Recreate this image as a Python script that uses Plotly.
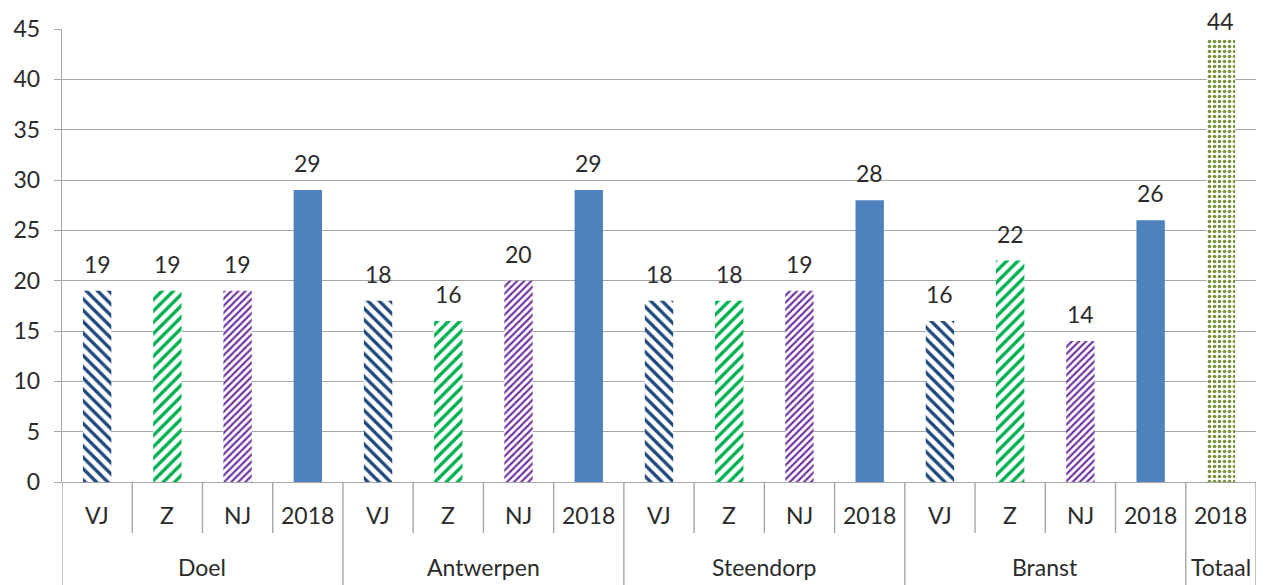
import plotly.graph_objects as go

# ---- data ----
groups = ["Doel", "Antwerpen", "Steendorp", "Branst"]
sub_labels = ["VJ", "Z", "NJ", "2018"]
total_group = "Totaal"
total_label = "2018"
vj_values = [19, 18, 18, 16]
z_values = [19, 16, 18, 22]
nj_values = [19, 20, 19, 14]
y2018_values = [29, 29, 28, 26]
totaal_values = [44]
y_ticks = [0, 5, 10, 15, 20, 25, 30, 35, 40, 45]

# ---- build category positions ----
cats = []  # (group, sub)
for g in groups:
    for s in sub_labels:
        cats.append((g, s))
cats.append((total_group, total_label))
n = len(cats)

def idx(series_sub):
    return [i for i, (g, s) in enumerate(cats) if s == series_sub and g != total_group]

x_vj = idx("VJ")
x_z = idx("Z")
x_nj = idx("NJ")
x_18 = idx("2018")
x_tot = [i for i, (g, s) in enumerate(cats) if g == total_group]

# page body has an 8px margin -> compensate
OFF = 8
W, H = 1270 - OFF, 585 - OFF
ml, mr, mt, mb = 62 - OFF, 14, 29 - OFF, 103
ph = H - mt - mb
plot_bottom_px = 482
grid_c = "#A6A6A6"
txt_c = "#2B2B2B"
font_f = "Lato, Calibri, Carlito, sans-serif"
fs = 23
bw = 0.404

fig = go.Figure()

def add_bar(xs, ys, name, color, shape=None, size=8, solidity=0.4):
    marker = dict(color=color, line=dict(width=0))
    if shape:
        marker = dict(color="white", line=dict(width=0),
                      pattern=dict(shape=shape, fgcolor=color, bgcolor="white",
                                   size=size, solidity=solidity, fillmode="replace",
                                   fgopacity=1))
    fig.add_trace(go.Bar(x=xs, y=ys, name=name, width=bw, marker=marker,
                         hoverinfo="y"))

add_bar(x_vj, vj_values, "VJ", "#1F497D", "\\", 8, 0.42)
add_bar(x_z, z_values, "Z", "#00B050", "/", 8, 0.42)
add_bar(x_nj, nj_values, "NJ", "#7030A0", "/", 5, 0.42)
add_bar(x_18, y2018_values, "2018", "#4F81BD")
add_bar(x_tot, totaal_values, "Totaal", "#77933C", ".", 5, 0.42)

# value labels
annotations = []
for xs, ys in [(x_vj, vj_values), (x_z, z_values), (x_nj, nj_values),
               (x_18, y2018_values), (x_tot, totaal_values)]:
    for xv, yv in zip(xs, ys):
        shift = 27 if yv < 42 else 18
        annotations.append(dict(x=xv, y=yv, xref="x", yref="y", text=str(yv),
                                showarrow=False, yshift=shift, yanchor="middle",
                                font=dict(size=fs, color=txt_c, family=font_f)))

# sub-category labels
sub_y = -(515 - plot_bottom_px) / ph
grp_y = -(567 - plot_bottom_px) / ph
for i, (g, s) in enumerate(cats):
    annotations.append(dict(x=i, y=sub_y, xref="x", yref="paper", text=s,
                            showarrow=False, yanchor="middle",
                            font=dict(size=fs, color=txt_c, family=font_f)))

# group labels
group_names = groups + [total_group]
starts = {}
for i, (g, s) in enumerate(cats):
    starts.setdefault(g, []).append(i)
for g in group_names:
    members = starts[g]
    xc = (members[0] + members[-1]) / 2
    annotations.append(dict(x=xc, y=grp_y, xref="x", yref="paper", text=g,
                            showarrow=False, yanchor="middle",
                            font=dict(size=fs, color=txt_c, family=font_f)))

# separators
shapes = []
sub_bot = -(533 - plot_bottom_px) / ph
grp_bot = -(585 - plot_bottom_px) / ph
group_bounds = set()
for g in group_names:
    group_bounds.add(starts[g][0] - 0.5)
    group_bounds.add(starts[g][-1] + 0.5)
for k in range(n + 1):
    xb = k - 0.5
    y0 = grp_bot if xb in group_bounds else sub_bot
    shapes.append(dict(type="line", xref="x", yref="paper", x0=xb, x1=xb,
                       y0=0, y1=y0, line=dict(color=grid_c, width=1.4)))

fig.update_layout(
    width=W, height=H,
    margin=dict(l=ml, r=mr, t=mt, b=mb, autoexpand=False),
    paper_bgcolor="white", plot_bgcolor="white",
    showlegend=False, barmode="overlay",
    annotations=annotations, shapes=shapes,
    font=dict(family=font_f, size=fs, color=txt_c),
    xaxis=dict(range=[-0.5, n - 0.5], showgrid=False, zeroline=False,
               showticklabels=False, ticks="", showline=False, fixedrange=True),
    yaxis=dict(range=[0, 45], tickvals=y_ticks, showgrid=True, gridcolor=grid_c,
               gridwidth=1.4, zeroline=True, zerolinecolor=grid_c, zerolinewidth=1.4,
               showline=True, linecolor=grid_c, linewidth=1.4,
               ticks="outside", ticklen=7, tickcolor=grid_c, tickwidth=1.4,
               ticklabelstandoff=9, automargin=False,
               tickfont=dict(size=fs, color=txt_c, family=font_f), fixedrange=True),
)

fig.write_html("out.html")
